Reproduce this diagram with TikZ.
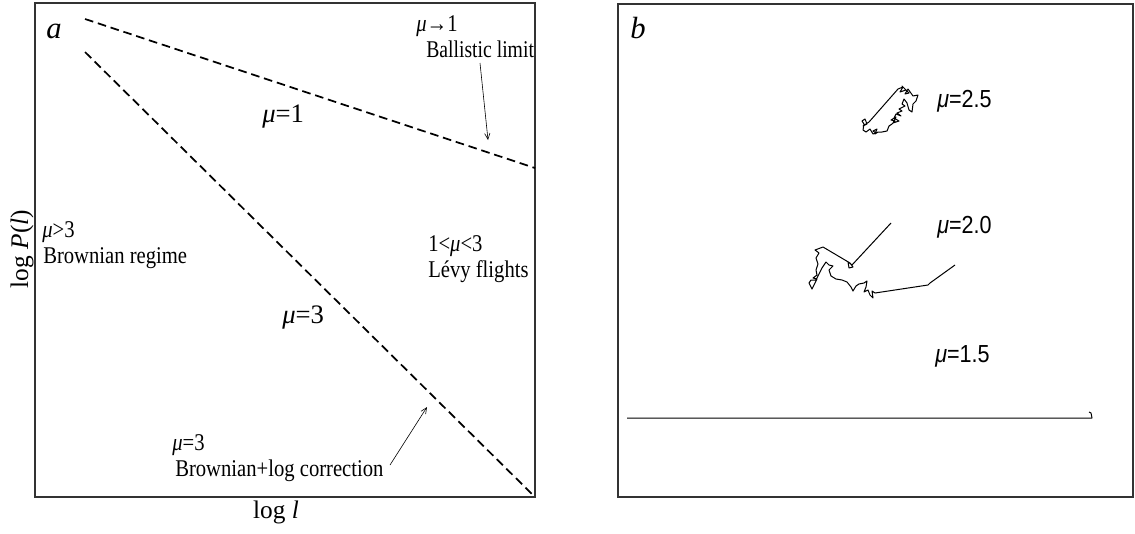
\documentclass[tikz,border=0pt]{standalone}
\usepackage{graphicx}
\usepackage{fontspec}
\setmainfont{Liberation Serif}
\setsansfont{Liberation Sans}
\usetikzlibrary{arrows.meta}
\newcommand{\sqz}[1]{\scalebox{0.86}[1]{#1}}
\newcommand{\sqs}[1]{\scalebox{0.875}[1]{#1}}
\begin{document}
\begin{tikzpicture}[x=0.75pt,y=-0.75pt,
  frame/.style={draw=black!80, line width=1.1pt},
  guide/.style={dash pattern=on 6.5pt off 3.6pt, line width=1.3pt},
  pointer/.style={line width=0.45pt, -{Straight Barb[length=4.5pt,width=4pt]}},
  lab/.style={inner sep=0pt, anchor=base west, font=\fontsize{18}{20}\selectfont},
  biglab/.style={inner sep=0pt, anchor=base west, font=\fontsize{20}{22}\selectfont},
  panellab/.style={inner sep=0pt, anchor=base west, font=\fontsize{23}{25}\selectfont\itshape},
  axlab/.style={inner sep=0pt, font=\fontsize{19}{21}\selectfont},
  walklab/.style={inner sep=0pt, anchor=base west, font=\sffamily\fontsize{18.5}{20}\selectfont},
  walk/.style={line width=0.75pt, line join=round}
]
\useasboundingbox (0,0) rectangle (1135,533);

% ---------- panel a ----------
\draw[frame] (35,3) rectangle (535,497);
\node[panellab] (pa) at (46,38) {a};

\coordinate (u1) at (85,19);
\coordinate (u2) at (535,168);
\coordinate (l1) at (85,52);
\coordinate (l2) at (535,497);
\draw[guide] (u1) -- (u2);
\draw[guide] (l1) -- (l2);

\node[biglab] (m1) at (262,122) {\textit{μ}=1};
\node[biglab] (m3) at (282,323) {\textit{μ}=3};

\node[lab] (bal1) at (416,31) {\sqz{\textit{μ}→1}};
\node[lab] (bal2) at (426,57) {\scalebox{0.82}[1]{Ballistic limit}};
\coordinate (balA) at (480,63);
\coordinate (balB) at (488,140);
\draw[pointer] (balA) -- (balB);

\node[lab] (br1) at (42,237) {\sqz{\textit{μ}>3}};
\node[lab] (br2) at (43,263) {\sqz{Brownian regime}};

\node[lab] (lv1) at (428,251) {\sqz{1<\textit{μ}<3}};
\node[lab] (lv2) at (428,277) {\sqz{Lévy flights}};

\node[lab] (lc1) at (172,450) {\sqz{\textit{μ}=3}};
\node[lab] (lc2) at (175,476) {\sqz{Brownian+log correction}};
\coordinate (lcA) at (390,465);
\coordinate (lcB) at (427,407);
\draw[pointer] (lcA) -- (lcB);

\node[axlab, rotate=90] (ylab) at (22,249) {log \textit{P}(\textit{l})};
\node[axlab, anchor=base] (xlab) at (276,518) {log \textit{l}};

% ---------- panel b ----------
\draw[frame] (618,4) rectangle (1133,497);
\node[panellab] (pb) at (630,38) {b};

\node[walklab] (w25) at (937,107) {\sqs{\textit{μ}=2.5}};
\node[walklab] (w20) at (937,233) {\sqs{\textit{μ}=2.0}};
\node[walklab] (w15) at (935,362) {\sqs{\textit{μ}=1.5}};

% mu = 2.5 walk
\draw[walk] (869,122) -- (898,89) -- (903,87) -- (900,92) -- (906,90) -- (902,86)
  -- (909,93) -- (905,94) -- (908,89)
  -- (913,96) -- (918,95) -- (916,101) -- (913,104) -- (912,112) -- (909,110)
  -- (907,103) -- (904,99) -- (902,104) -- (905,106) -- (899,109) -- (902,111)
  -- (897,113) -- (901,116) -- (896,114)
  -- (894,118) -- (899,121) -- (893,123) -- (896,117) -- (891,120) -- (895,121)
  -- (892,124) -- (889,126)
  -- (887,131) -- (882,132) -- (878,132) -- (875,134) -- (877,129) -- (873,131)
  -- (876,133) -- (873,134)
  -- (870,129) -- (866,132) -- (863,130) -- (864,124) -- (862,121) -- (865,119)
  -- (867,124) -- (863,126) -- (869,122);

% mu = 2.0 walk
\draw[walk] (891,223) -- (852,265) -- (848,262) -- (849,268) -- (853,267) -- (850,263)
  -- (823,247) -- (815,250) -- (819,253) -- (816,258) -- (818,264) -- (816,270)
  -- (817,275) -- (813,278) -- (817,279) -- (815,283) -- (812,289) -- (809,283) -- (811,280)
  -- (816,280) -- (819,274) -- (822,268) -- (826,262) -- (829,265) -- (833,266)
  -- (829,270) -- (831,276) -- (836,279) -- (842,280) -- (847,282) -- (851,287)
  -- (853,291) -- (856,286) -- (859,284) -- (864,283) -- (867,281) -- (866,287)
  -- (864,292) -- (868,290) -- (870,295) -- (873,298) -- (872,291) -- (875,293)
  -- (928,285) -- (930,283) -- (955,265);

% mu = 1.5 walk
\draw[walk] (627,418) -- (1092,418) -- (1091,413) -- (1089,412);
\end{tikzpicture}
\end{document}
